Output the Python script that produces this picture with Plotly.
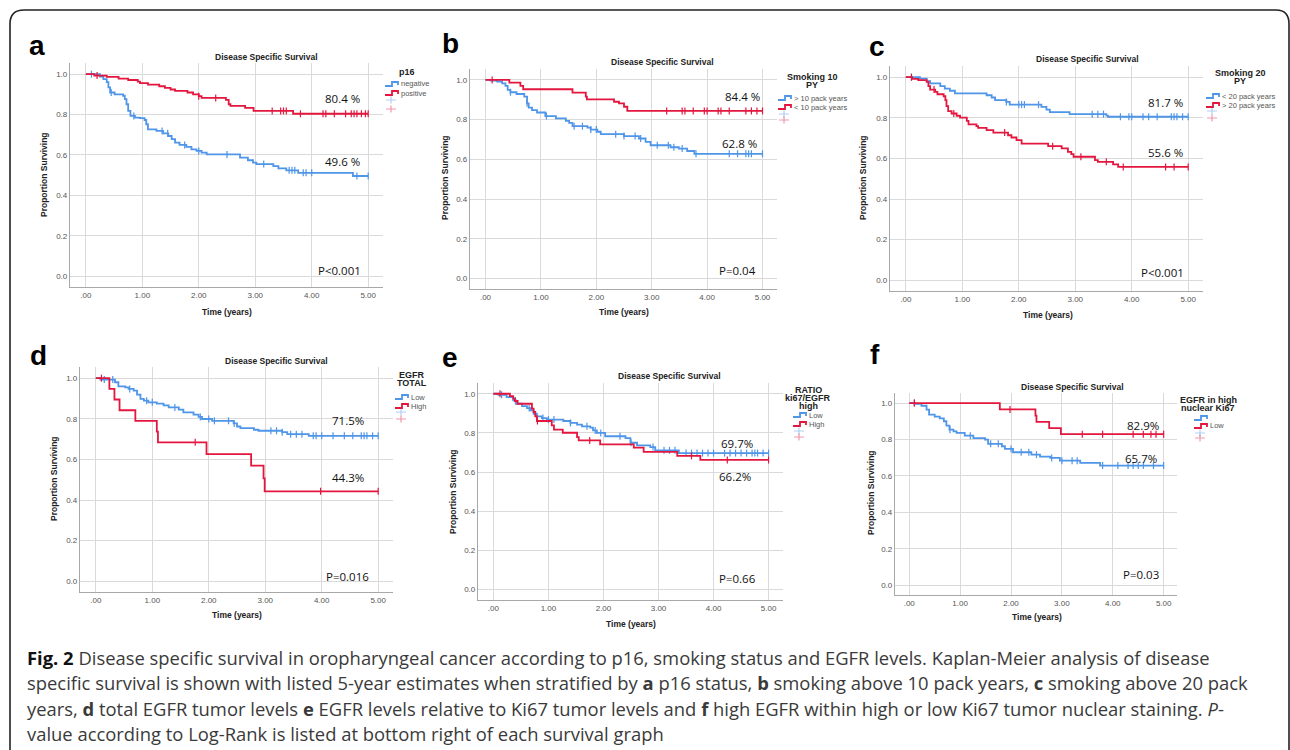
import numpy as np
import plotly.graph_objects as go

W, H = 1290, 750

X_TICKS = [".00", "1.00", "2.00", "3.00", "4.00", "5.00"]
X_VALS = [0, 1, 2, 3, 4, 5]
Y_TICKS = ["0.0", "0.2", "0.4", "0.6", "0.8", "1.0"]
Y_VALS = [0, 0.2, 0.4, 0.6, 0.8, 1.0]
END_TIME = 5.0

# ---------------- panel a : p16 ----------------
A_NEG_T = [0, 0.25, 0.31, 0.37, 0.40, 0.43, 0.51, 0.66, 0.69, 0.72, 0.75, 0.79, 0.87, 0.96, 1.04, 1.07, 1.10, 1.25, 1.37, 1.46, 1.52, 1.58, 1.66, 1.78, 1.87, 1.96, 2.05, 2.14, 2.73, 2.87, 2.96, 3.02, 3.32, 3.41, 3.55, 3.76, 4.73]
A_NEG_S = [1.0, 0.988, 0.975, 0.960, 0.934, 0.909, 0.900, 0.893, 0.876, 0.851, 0.818, 0.793, 0.785, 0.782, 0.773, 0.752, 0.727, 0.719, 0.707, 0.694, 0.678, 0.661, 0.650, 0.640, 0.628, 0.620, 0.612, 0.603, 0.587, 0.574, 0.562, 0.555, 0.545, 0.534, 0.524, 0.512, 0.496]
A_NEG_C = [0.1, 0.45, 0.85, 1.35, 1.45, 1.75, 2.0, 2.5, 3.15, 3.6, 3.65, 3.7, 3.85, 3.9, 4.0, 4.8, 5.0]
A_POS_T = [0, 0.15, 0.37, 0.58, 0.75, 0.92, 0.96, 1.10, 1.30, 1.40, 1.50, 1.58, 1.80, 1.90, 2.00, 2.05, 2.48, 2.53, 2.56, 2.82, 2.97, 3.67]
A_POS_S = [1.0, 0.993, 0.986, 0.978, 0.971, 0.963, 0.955, 0.948, 0.940, 0.932, 0.924, 0.917, 0.909, 0.900, 0.891, 0.882, 0.873, 0.851, 0.843, 0.833, 0.818, 0.804]
A_POS_C = [0.2, 2.0, 2.3, 3.3, 3.45, 3.5, 3.55, 3.8, 4.2, 4.25, 4.4, 4.6, 4.7, 4.75, 4.8, 4.88, 4.95, 5.0]

# ---------------- panel b : smoking 10 PY ----------------
B_HI_T = [0, 0.09, 0.21, 0.30, 0.36, 0.40, 0.45, 0.56, 0.70, 0.75, 0.78, 0.84, 0.93, 1.08, 1.27, 1.45, 1.51, 1.57, 1.84, 1.90, 2.02, 2.08, 2.50, 2.77, 2.89, 2.98, 3.34, 3.49, 3.64, 3.77]
B_HI_S = [1.0, 0.997, 0.992, 0.983, 0.970, 0.950, 0.938, 0.929, 0.916, 0.882, 0.860, 0.848, 0.836, 0.818, 0.806, 0.794, 0.784, 0.767, 0.760, 0.750, 0.739, 0.727, 0.717, 0.705, 0.688, 0.671, 0.661, 0.654, 0.642, 0.628]
B_HI_C = [0.45, 0.75, 1.1, 1.6, 1.75, 1.9, 2.0, 2.35, 2.5, 2.7, 2.8, 3.1, 3.3, 3.4, 3.55, 3.8, 4.4, 4.55, 4.7, 4.75, 4.8, 5.0]
B_LO_T = [0, 0.43, 0.63, 0.68, 1.57, 1.81, 1.83, 2.32, 2.41, 2.50, 2.56]
B_LO_S = [1.0, 0.986, 0.970, 0.953, 0.936, 0.916, 0.902, 0.890, 0.882, 0.865, 0.844]
B_LO_C = [0.12, 3.27, 3.55, 3.6, 3.75, 3.95, 4.0, 4.2, 4.25, 4.4, 4.7, 4.8, 4.9, 5.0]

# ---------------- panel c : smoking 20 PY ----------------
C_LO_T = [0, 0.25, 0.37, 0.43, 0.61, 0.69, 0.78, 0.87, 1.43, 1.52, 1.58, 1.78, 1.84, 2.40, 2.49, 2.55, 2.90, 3.55, 3.58]
C_LO_S = [1.0, 0.993, 0.980, 0.969, 0.956, 0.944, 0.933, 0.920, 0.911, 0.900, 0.887, 0.878, 0.865, 0.854, 0.840, 0.828, 0.818, 0.811, 0.805]
C_LO_C = [0.1, 1.78, 2.0, 2.05, 2.1, 2.35, 3.3, 3.4, 3.5, 3.8, 3.95, 4.0, 4.2, 4.3, 4.45, 4.7, 4.75, 4.8, 4.9, 5.0]
C_HI_T = [0, 0.11, 0.22, 0.37, 0.40, 0.43, 0.52, 0.56, 0.67, 0.70, 0.72, 0.75, 0.81, 0.90, 0.96, 1.08, 1.11, 1.25, 1.28, 1.43, 1.55, 1.81, 1.87, 1.96, 2.05, 2.52, 2.76, 2.87, 2.93, 2.97, 3.35, 3.40, 3.67, 3.76]
C_HI_S = [1.0, 0.992, 0.985, 0.977, 0.956, 0.939, 0.928, 0.916, 0.906, 0.887, 0.857, 0.833, 0.821, 0.810, 0.801, 0.785, 0.768, 0.759, 0.750, 0.739, 0.727, 0.714, 0.703, 0.690, 0.673, 0.660, 0.649, 0.632, 0.621, 0.608, 0.591, 0.583, 0.571, 0.558]
C_HI_C = [0.1, 0.5, 0.85, 1.75, 2.6, 3.1, 3.55, 3.85, 4.6, 4.75, 5.0]

# ---------------- panel d : EGFR total ----------------
D_LO_T = [0, 0.08, 0.34, 0.40, 0.52, 0.58, 0.67, 0.73, 0.79, 0.85, 0.93, 1.08, 1.20, 1.29, 1.47, 1.55, 1.73, 1.82, 1.88, 2.06, 2.44, 2.50, 2.56, 2.80, 2.88, 3.30, 3.39, 3.77]
D_LO_S = [1.0, 0.993, 0.980, 0.960, 0.955, 0.947, 0.939, 0.919, 0.898, 0.889, 0.881, 0.875, 0.866, 0.856, 0.845, 0.832, 0.820, 0.809, 0.799, 0.790, 0.777, 0.762, 0.754, 0.746, 0.741, 0.734, 0.724, 0.716]
D_LO_C = [0.15, 0.3, 0.6, 0.9, 1.0, 1.4, 1.85, 2.0, 2.1, 2.35, 2.45, 3.1, 3.2, 3.3, 3.45, 3.55, 3.65, 3.85, 3.9, 4.0, 4.2, 4.4, 4.55, 4.7, 4.75, 4.8, 4.9, 5.0]
D_HI_T = [0, 0.24, 0.33, 0.42, 0.70, 1.08, 1.10, 1.96, 2.75, 2.97, 2.99]
D_HI_S = [1.0, 0.947, 0.895, 0.842, 0.790, 0.737, 0.684, 0.626, 0.569, 0.507, 0.443]
D_HI_C = [0.1, 1.76, 3.98, 5.0]

# ---------------- panel e : ratio ki67/EGFR ----------------
E_LO_T = [0, 0.09, 0.24, 0.36, 0.41, 0.52, 0.61, 0.67, 0.73, 0.79, 0.88, 0.97, 1.27, 1.40, 1.52, 1.61, 1.76, 1.81, 1.88, 2.03, 2.40, 2.49, 2.61, 2.85, 2.94, 3.37]
E_LO_S = [1.0, 0.995, 0.983, 0.966, 0.949, 0.937, 0.927, 0.915, 0.898, 0.885, 0.876, 0.868, 0.861, 0.851, 0.842, 0.834, 0.827, 0.813, 0.800, 0.783, 0.774, 0.750, 0.737, 0.728, 0.711, 0.697]
E_LO_C = [0.15, 0.4, 0.65, 0.9, 1.0, 1.1, 1.4, 1.7, 1.85, 1.95, 2.3, 2.5, 2.9, 3.1, 3.2, 3.3, 3.5, 3.6, 3.7, 3.8, 3.9, 4.0, 4.2, 4.3, 4.4, 4.5, 4.6, 4.7, 4.75, 4.8, 4.9, 5.0]
E_HI_T = [0, 0.30, 0.36, 0.39, 0.44, 0.70, 0.73, 0.76, 0.79, 1.06, 1.10, 1.26, 1.52, 1.55, 1.94, 2.55, 2.73, 3.34, 3.76]
E_HI_S = [1.0, 0.988, 0.975, 0.963, 0.949, 0.924, 0.907, 0.885, 0.861, 0.839, 0.817, 0.801, 0.779, 0.762, 0.742, 0.725, 0.703, 0.683, 0.662]
E_HI_C = [0.12, 0.8, 1.75, 3.6, 4.25, 5.0]

# ---------------- panel f : EGFR in high nuclear Ki67 ----------------
F_BLUE_T = [0, 0.11, 0.24, 0.34, 0.39, 0.50, 0.60, 0.68, 0.73, 0.79, 0.87, 0.93, 1.09, 1.26, 1.49, 1.55, 1.82, 1.88, 2.04, 2.40, 2.57, 2.77, 2.96, 3.36, 3.75]
F_BLUE_S = [1.0, 0.995, 0.985, 0.964, 0.936, 0.925, 0.916, 0.900, 0.876, 0.854, 0.845, 0.836, 0.821, 0.808, 0.799, 0.776, 0.763, 0.748, 0.730, 0.717, 0.706, 0.699, 0.684, 0.672, 0.657]
F_BLUE_C = [0.1, 0.8, 1.2, 1.6, 1.75, 2.0, 2.2, 2.35, 2.5, 2.8, 3.0, 3.2, 3.3, 3.8, 4.1, 4.3, 4.4, 4.5, 4.6, 4.8, 5.0]
F_RED_T = [0, 1.78, 2.48, 2.50, 2.75, 2.98]
F_RED_S = [1.0, 0.965, 0.931, 0.897, 0.862, 0.829]
F_RED_C = [0.1, 1.98, 3.4, 3.8, 4.4, 4.6, 4.75, 4.85, 5.0]

BLUE = "#4f95e8"
RED = "#e3173e"
BLUE_FADE = "rgba(79,149,232,0.45)"
RED_FADE = "rgba(227,23,62,0.45)"

TITLE = "Disease Specific Survival"

panels = [
    dict(letter="a", box=(70, 383, 63, 287), letter_xy=(37, 45), title_xy=(266, 57),
         ytitle_xy=(44, 175), xtitle_xy=(227, 312),
         series=[(A_NEG_T, A_NEG_S, A_NEG_C, BLUE), (A_POS_T, A_POS_S, A_POS_C, RED)],
         labels=[("80.4 %", 342, 98), ("49.6 %", 342, 162), ("P<0.001", 339, 271)],
         leg=dict(title=["p16"], tx=407, ty=72, ix=385, entries=[("negative", 84, BLUE), ("positive", 93, RED)],
                  cross=[(100, BLUE_FADE), (109, RED_FADE)])),
    dict(letter="b", box=(470, 777, 69, 289), letter_xy=(450, 44), title_xy=(662, 62),
         ytitle_xy=(445, 178), xtitle_xy=(624, 312),
         series=[(B_HI_T, B_HI_S, B_HI_C, BLUE), (B_LO_T, B_LO_S, B_LO_C, RED)],
         labels=[("84.4 %", 742, 97), ("62.8 %", 739, 143), ("P=0.04", 737, 271)],
         leg=dict(title=["Smoking 10", "PY"], tx=812, ty=77, ix=778, entries=[("> 10 pack years", 98, BLUE), ("< 10 pack years", 107, RED)],
                  cross=[(114, BLUE_FADE), (120, RED_FADE)])),
    dict(letter="c", box=(890, 1203, 66, 291), letter_xy=(877, 47), title_xy=(1087, 59),
         ytitle_xy=(863, 178), xtitle_xy=(1048, 315),
         series=[(C_LO_T, C_LO_S, C_LO_C, BLUE), (C_HI_T, C_HI_S, C_HI_C, RED)],
         labels=[("81.7 %", 1165, 102), ("55.6 %", 1165, 153), ("P<0.001", 1162, 272)],
         leg=dict(title=["Smoking 20", "PY"], tx=1240, ty=73, ix=1206, entries=[("< 20 pack years", 96, BLUE), ("> 20 pack years", 105, RED)],
                  cross=[(111, BLUE_FADE), (118, RED_FADE)])),
    dict(letter="d", box=(80, 393, 367, 592), letter_xy=(38, 355), title_xy=(276, 361),
         ytitle_xy=(54, 479), xtitle_xy=(237, 615),
         series=[(D_LO_T, D_LO_S, D_LO_C, BLUE), (D_HI_T, D_HI_S, D_HI_C, RED)],
         labels=[("71.5%", 348, 420), ("44.3%", 348, 477), ("P=0.016", 347, 576)],
         leg=dict(title=["EGFR", "TOTAL"], tx=412, ty=375, ix=395, entries=[("Low", 397, BLUE), ("High", 406, RED)],
                  cross=[(412, BLUE_FADE), (419, RED_FADE)])),
    dict(letter="e", box=(478, 783, 383, 600), letter_xy=(450, 357), title_xy=(669, 376),
         ytitle_xy=(453, 492), xtitle_xy=(631, 624),
         series=[(E_LO_T, E_LO_S, E_LO_C, BLUE), (E_HI_T, E_HI_S, E_HI_C, RED)],
         labels=[("69.7%", 737, 443), ("66.2%", 735, 476), ("P=0.66", 737, 578)],
         leg=dict(title=["RATIO", "ki67/EGFR", "high"], tx=808, ty=390, ix=793, entries=[("Low", 415, BLUE), ("High", 424, RED)],
                  cross=[(431, BLUE_FADE), (437, RED_FADE)])),
    dict(letter="f", box=(895, 1177, 393, 595), letter_xy=(875, 354), title_xy=(1072, 387),
         ytitle_xy=(871, 493), xtitle_xy=(1037, 617),
         series=[(F_BLUE_T, F_BLUE_S, F_BLUE_C, BLUE), (F_RED_T, F_RED_S, F_RED_C, RED)],
         labels=[("82.9%", 1143, 426), ("65.7%", 1141, 458), ("P=0.03", 1141, 574)],
         leg=dict(title=["EGFR in high", "nuclear Ki67"], tx=1208, ty=400, ix=1194, entries=[("", 418, BLUE), ("Low", 426, RED)],
                  cross=[(433, BLUE_FADE), (438, RED_FADE)])),
]


def px(x):
    return x / W


def py(y):
    return 1 - y / H


def step_value(times, surv, t):
    idx = np.searchsorted(np.asarray(times), t, side="right") - 1
    return np.asarray(surv)[idx]


fig = go.Figure()
annotations = []
shapes = []
layout = dict(width=W, height=H, margin=dict(l=0, r=0, t=0, b=0), autosize=False,
              paper_bgcolor="white", plot_bgcolor="white", showlegend=False)

TICKFONT = dict(family="Liberation Sans", size=8, color="#555555")


def ann(text, x, y, size, color="#000000", family="Open Sans", xanchor="center", angle=0, bold=False):
    annotations.append(dict(text=(f"<b>{text}</b>" if bold else text), x=px(x), y=py(y), xref="paper", yref="paper",
                            xanchor=xanchor, yanchor="middle", showarrow=False, textangle=angle,
                            font=dict(family=family, size=size, color=color)))


for i, p in enumerate(panels):
    n = "" if i == 0 else str(i + 1)
    L, R, T, B = p["box"]
    layout["xaxis" + n] = dict(domain=[px(L), px(R)], range=[-0.28, 5.262], anchor="y" + n,
                               tickvals=X_VALS, ticktext=X_TICKS, showgrid=True, gridcolor="#dadada", gridwidth=1,
                               showline=True, linecolor="#a8a8a8", linewidth=1.3, zeroline=False, ticks="",
                               tickfont=TICKFONT, fixedrange=True)
    layout["yaxis" + n] = dict(domain=[py(B), py(T)], range=[-0.053, 1.055], anchor="x" + n,
                               tickvals=Y_VALS, ticktext=Y_TICKS, showgrid=True, gridcolor="#dadada", gridwidth=1,
                               showline=True, linecolor="#a8a8a8", linewidth=1.3, zeroline=False, ticks="",
                               tickfont=TICKFONT, fixedrange=True)
    for (tt, ss, cc, col) in p["series"]:
        xs = list(tt) + [END_TIME]
        ys = list(ss) + [ss[-1]]
        fig.add_trace(go.Scatter(x=xs, y=ys, mode="lines", line=dict(color=col, width=1.8, shape="hv"),
                                 xaxis="x" + n, yaxis="y" + n, hoverinfo="skip"))
        cy = step_value(tt, ss, np.asarray(cc))
        fig.add_trace(go.Scatter(x=cc, y=cy, mode="markers",
                                 marker=dict(symbol="line-ns", size=5, line=dict(color=col, width=1.2)),
                                 xaxis="x" + n, yaxis="y" + n, hoverinfo="skip"))
    # panel letter, title, axis titles
    ann(p["letter"], *p["letter_xy"], size=28, family="Liberation Sans", bold=True)
    ann(TITLE, *p["title_xy"], size=8.5, family="Liberation Sans", color="#222222", bold=True)
    ann("Proportion Surviving", *p["ytitle_xy"], size=8.5, family="Liberation Sans", color="#222222", angle=-90, bold=True)
    ann("Time (years)", *p["xtitle_xy"], size=8.5, family="Liberation Sans", color="#222222", bold=True)
    for (txt, x, y) in p["labels"]:
        ann(txt, x, y, size=11.5, family="Open Sans", color="#111111")
    # legend
    lg = p["leg"]
    for k, line in enumerate(lg["title"]):
        ann(line, lg["tx"], lg["ty"] + k * 8, size=9, family="Liberation Sans", color="#222222", bold=True)
    x0 = lg["ix"]
    for (label, y, col) in lg["entries"]:
        path = (f"M {px(x0)},{py(y + 2)} L {px(x0 + 7)},{py(y + 2)} L {px(x0 + 7)},{py(y - 2)} "
                f"L {px(x0 + 13)},{py(y - 2)} L {px(x0 + 13)},{py(y + 1)}")
        shapes.append(dict(type="path", path=path, xref="paper", yref="paper", line=dict(color=col, width=1.8)))
        if label:
            ann(label, x0 + 14, y, size=7.5, family="Liberation Sans", color="#555555", xanchor="left")
    for (y, col) in lg["cross"]:
        cx = x0 + 6
        path = f"M {px(cx - 5)},{py(y)} L {px(cx + 5)},{py(y)} M {px(cx)},{py(y - 3.5)} L {px(cx)},{py(y + 3.5)}"
        shapes.append(dict(type="path", path=path, xref="paper", yref="paper", line=dict(color=col, width=1.2)))

# outer rounded border
border = (f"M {px(10)},{py(752)} L {px(10)},{py(24)} Q {px(10)},{py(10)} {px(24)},{py(10)} "
          f"L {px(1276)},{py(10)} Q {px(1289)},{py(10)} {px(1289)},{py(24)} L {px(1289)},{py(752)}")
shapes.append(dict(type="path", path=border, xref="paper", yref="paper", line=dict(color="#222222", width=1.6)))

# caption
CAPTION = [
    "<b><span style='color:#111'>Fig. 2</span></b> Disease specific survival in oropharyngeal cancer according to p16, smoking status and EGFR levels. Kaplan-Meier analysis of disease",
    "specific survival is shown with listed 5-year estimates when stratified by <b>a</b> p16 status, <b>b</b> smoking above 10 pack years, <b>c</b> smoking above 20 pack",
    "years, <b>d</b> total EGFR tumor levels <b>e</b> EGFR levels relative to Ki67 tumor levels and <b>f</b> high EGFR within high or low Ki67 tumor nuclear staining. <i>P</i>-",
    "value according to Log-Rank is listed at bottom right of each survival graph",
]
CAPTION_Y = [657, 682, 708, 733]
for line, y in zip(CAPTION, CAPTION_Y):
    ann(line, 25, y, size=18.4, family="Open Sans", color="#3a3a3a", xanchor="left")

layout["annotations"] = annotations
layout["shapes"] = shapes
fig.update_layout(**layout)
fig.write_html("out.html")
